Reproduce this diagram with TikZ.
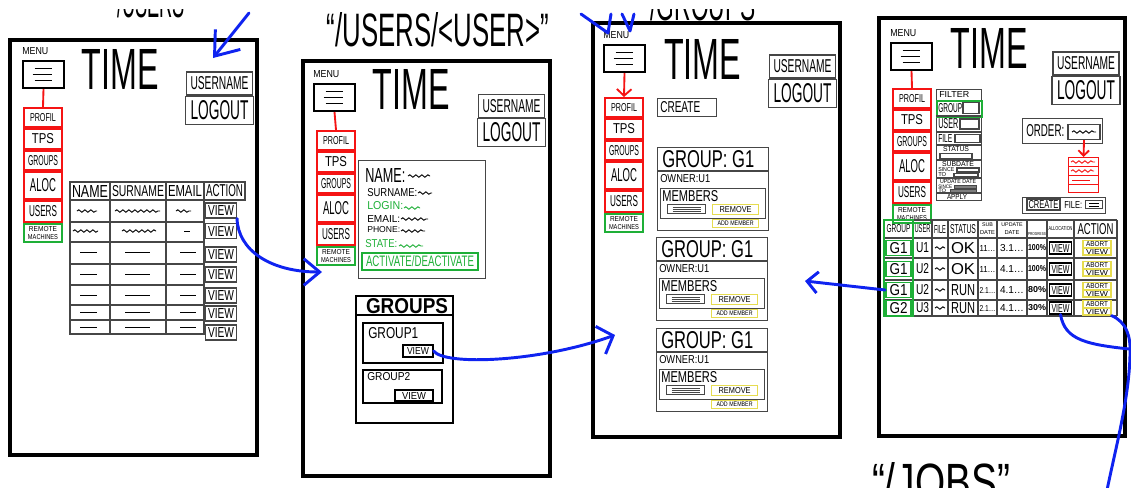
\documentclass[tikz,border=0pt]{standalone}
\usepackage{graphicx}
\usepackage{fontspec}
\setmainfont{Liberation Sans}
\usetikzlibrary{arrows.meta,decorations.pathmorphing}
\newlength\pxu
\setlength\pxu{0.75pt}
\newcommand\skt[3]{\resizebox{#1\pxu}{#2\pxu}{#3}}
\definecolor{skred}{RGB}{245,20,20}
\definecolor{skgreen}{RGB}{30,175,55}
\definecolor{skyellow}{RGB}{230,220,80}
\definecolor{skblue}{RGB}{15,35,240}
\definecolor{skgray}{RGB}{70,70,70}
\tikzset{
  wh/.style 2 args={minimum width=#1*0.75pt, minimum height=#2*0.75pt},
  frame/.style={draw=black, line width=3pt},
  box/.style={draw=skgray, line width=0.8pt, inner sep=0pt},
  hbox/.style={draw=black, line width=1.4pt, inner sep=0pt},
  redbox/.style={draw=skred, line width=1.5pt, inner sep=0pt},
  greenbox/.style={draw=skgreen, line width=1.3pt, inner sep=0pt},
  yelbox/.style={draw=skyellow, line width=0.9pt, inner sep=0pt},
  txt/.style={inner sep=0pt},
  menuicon/.style={draw=black, line width=1.5pt, wh={41}{27}, inner sep=0pt},
  redline/.style={draw=skred, line width=1.4pt},
  blueline/.style={draw=skblue, line width=2.2pt, line cap=round, line join=round},
  sq/.style={decorate, decoration={snake, amplitude=0.9pt, segment length=4.5pt}, line width=0.7pt},
}
% menu column: prefix, icon x, icon y, box x, box y, arrow spec
\newcommand\menucol[6]{%
  \node[txt, anchor=west] (#1lbl) at (#2,#3-9) {\skt{26}{7}{MENU}};
  \node[menuicon, anchor=north west] (#1menu) at (#2,#3) {};
  \draw[line width=1.2pt] ([shift={(-9,-6)}]#1menu.center) -- ++(17,0)
    ([shift={(-11,0)}]#1menu.center) -- ++(19,0)
    ([shift={(-9,6)}]#1menu.center) -- ++(17,0);
  \node[redbox, wh={38}{19}, anchor=north west] (#1prof) at (#4,#5) {\skt{26}{8}{PROFIL}};
  \node[redbox, wh={38}{20}, anchor=north] (#1tps) at (#1prof.south) {\skt{22}{10}{TPS}};
  \node[redbox, wh={38}{19}, anchor=north] (#1grp) at (#1tps.south) {\skt{30}{10}{GROUPS}};
  \node[redbox, wh={38}{27}, anchor=north] (#1aloc) at (#1grp.south) {\skt{26}{13}{ALOC}};
  \node[redbox, wh={38}{21}, anchor=north] (#1usr) at (#1aloc.south) {\skt{28}{11}{USERS}};
  \node[greenbox, wh={38}{18}, anchor=north, align=center, font=\fontsize{3}{3.5}\selectfont] (#1rem) at (#1usr.south) {\skt{28}{5}{REMOTE}\\[1pt]\skt{30}{5}{MACHINES}};
  \draw[redline, #6] (#1menu.south) -- (#1prof.north);
}
% title bar: prefix, time x, time y, username x, username y
\newcommand\topbar[5]{%
  \node[txt] (#1time) at (#2,#3) {\skt{77}{40}{TIME}};
  \node[box, wh={66}{23}] (#1user) at (#4,#5) {\skt{58}{13}{USERNAME}};
  \node[box, wh={68}{28}, anchor=north] (#1out) at (#1user.south) {\skt{58}{19}{LOGOUT}};
}
% group card: prefix, x, y
\newcommand\gcard[3]{%
  \node[box, wh={111}{83}, anchor=north west] (#1) at (#2,#3) {};
  \draw[box] (#2,#3+24) -- (#2+111,#3+24);
  \node[txt, anchor=west] (#1t) at (#2+5,#3+12) {\skt{92}{17}{GROUP: G1}};
  \node[txt, anchor=west] (#1o) at (#2+3,#3+32) {\skt{50}{8}{OWNER:U1}};
  \node[box, wh={105}{30}, anchor=north west] (#1m) at (#2+3,#3+41) {};
  \node[txt, anchor=west] (#1mt) at (#2+5,#3+49) {\skt{56}{11}{MEMBERS}};
  \node[box, wh={38}{9}, anchor=north west] (#1in) at (#2+10,#3+57) {};
  \draw[skgray, line width=0.6pt] ([shift={(-14,-2)}]#1in.center) -- ++(28,0)
      ([shift={(-14,0)}]#1in.center) -- ++(28,0) ([shift={(-14,2)}]#1in.center) -- ++(28,0);
  \node[yelbox, wh={46}{10}, anchor=north west] (#1rm) at (#2+55,#3+57) {\skt{32}{6}{REMOVE}};
  \node[yelbox, wh={46}{8}, anchor=north west] (#1add) at (#2+55,#3+72) {\skt{36}{4.5}{ADD MEMBER}};
}
\begin{document}
\begin{tikzpicture}[x=0.75pt, y=-0.75pt]
\useasboundingbox (0,0) rectangle (1131,487);
\clip (0,0) rectangle (1131,487);
% page titles (the top ones are only partly visible, as in the sketch)
\begin{scope}
\clip (0,9) rectangle (1131,487);
\node[txt, anchor=base] (ta) at (151,17) {\skt{80}{32}{“/USERS”}};
\node[txt, anchor=base] (tc) at (703,20) {\skt{120}{32}{“/GROUPS”}};
\end{scope}
\node[txt, anchor=base] (tb) at (438,46) {\skt{222}{34}{“/USERS/<USER>”}};
\node[txt, anchor=base] (td) at (941,500) {\skt{138}{38}{“/JOBS”}};
% frames
\draw[frame] (10,40) rectangle (257,455);
\draw[frame] (303,61) rectangle (550,476);
\draw[frame] (593,23) rectangle (840,437);
\draw[frame] (879,18) rectangle (1125,436);

% ===== Panel A =====
\menucol{pa}{22}{60}{23}{107}{-}
\topbar{pa}{120}{69}{219.5}{83.5}
\draw[box] (70,182) rectangle (245,200);
\foreach \x in {110,166,204} \draw[box] (\x,182) -- (\x,200);
\node[txt] (pah1) at (90,191) {\skt{36}{12}{NAME}};
\node[txt] (pah2) at (138,191) {\skt{52}{11}{SURNAME}};
\node[txt] (pah3) at (185,191) {\skt{34}{11}{EMAIL}};
\node[txt] (pah4) at (224.5,191) {\skt{37}{12}{ACTION}};
\draw[box] (70,200) rectangle (204,334);
\foreach \y in {222,242,264,285,305,320} \draw[box] (70,\y) -- (204,\y);
\foreach \x in {110,166} \draw[box] (\x,200) -- (\x,334);
\foreach \i/\y in {1/210.5,2/231,3/254.5,4/274.5,5/295.5,6/313.5,7/332.5}
  \node[box, wh={31}{15}, fill=white] (pav\i) at (221,\y) {\skt{26}{10}{VIEW}};
\draw[sq] (77,211) -- (97,211);
\draw[sq] (115,211) -- (160,211);
\draw[sq] (176,211) -- (191,211);
\draw[sq] (73,231) -- (98,231);
\draw[sq] (122,231) -- (156,231);
\draw[line width=0.7pt] (184,231) -- (190,231);
\foreach \y in {252,274,295,312,327}
  \draw[line width=0.7pt] (80,\y) -- (97,\y) (125,\y) -- (150,\y) (180,\y) -- (196,\y);

% ===== Panel B =====
\menucol{pb}{313}{83}{316}{130}{-}
\topbar{pb}{411}{89}{511.5}{106}
\node[box, wh={127}{118}, anchor=north west] (pbinfo) at (358,160) {};
\node[txt, anchor=west] (pbname) at (365,175) {\skt{40}{14}{NAME:}};
\draw[sq] (408,176) -- (430,176);
\node[txt, anchor=west] (pbsur) at (367,193) {\skt{50}{8}{SURNAME:}};
\draw[sq] (418,193) -- (432,193);
\node[txt, anchor=west, text=skgreen] (pblog) at (367,206) {\skt{36}{8}{LOGIN:}};
\draw[sq, skgreen] (404,208) -- (420,208);
\node[txt, anchor=west] (pbmail) at (367,218.5) {\skt{33}{7}{EMAIL:}};
\draw[sq] (401,219) -- (428,219);
\node[txt, anchor=west] (pbphone) at (367,230) {\skt{33}{6}{PHONE:}};
\draw[sq] (401,231) -- (425,231);
\node[txt, anchor=west, text=skgreen] (pbstate) at (365,244) {\skt{32}{8}{STATE:}};
\draw[sq, skgreen] (399,246) -- (423,246);
\node[greenbox, wh={116}{17}, text=skgreen] (pbact) at (420,261.5) {\skt{108}{11}{ACTIVATE/DEACTIVATE}};
\node[hbox, wh={97}{127}, anchor=north west] (pbgroups) at (355,295) {};
\draw[hbox] (355,315) -- (452,315);
\node[txt] (pbgt) at (407,306) {\skt{82}{15}{\bfseries GROUPS}};
\node[hbox, wh={80}{40}, anchor=north west] (pbg1) at (362,322) {};
\node[txt, anchor=west] (pbg1t) at (368,333) {\skt{50}{11}{GROUP1}};
\node[draw=black, line width=0.9pt, inner sep=0pt, wh={30}{12}] (pbg1v) at (418,351) {\skt{22}{7}{VIEW}};
\node[hbox, wh={79}{33}, anchor=north west] (pbg2) at (362,369) {};
\node[txt, anchor=west] (pbg2t) at (367,377) {\skt{43}{8}{GROUP2}};
\node[draw=black, line width=0.9pt, inner sep=0pt, wh={38}{11}] (pbg2v) at (414,395.5) {\skt{24}{7}{VIEW}};

% ===== Panel C =====
\menucol{pc}{603}{44}{604}{97}{-{Straight Barb[length=5pt,width=11pt]}}
\topbar{pc}{702.5}{59}{802.5}{66.5}
\node[box, wh={59}{18}, anchor=north west] (pccreate) at (657,98) {};
\node[txt, anchor=west] (pccreatet) at (660,107) {\skt{40}{11}{CREATE}};
\gcard{pcga}{657}{147}
\gcard{pcgb}{656}{237}
\gcard{pcgc}{656}{328}

% ===== Panel D =====
\menucol{pd}{890}{42}{892}{88}{-}
\topbar{pd}{989}{48}{1086}{63.5}
\node[box, wh={45}{111}, anchor=north west] (pdfilter) at (936,89) {};
\node[greenbox, wh={45}{16}, anchor=north west] (pdfgrp) at (936,100) {};
\foreach \y in {116,132,145,160,178,193} \draw[box] (936,\y) -- (981,\y);
\node[txt, anchor=west] (pdf0) at (939,94.5) {\skt{30}{6}{FILTER}};
\node[txt, anchor=west] (pdf1) at (938,108) {\skt{24}{9}{GROUP}};
\node[box, wh={16}{11}] (pdf1b) at (971,108) {};
\node[txt, anchor=west] (pdf2) at (938,124) {\skt{20}{10}{USER}};
\node[box, wh={19}{10}] (pdf2b) at (969.5,124) {};
\node[txt, anchor=west] (pdf3) at (938,138.5) {\skt{14}{8}{FILE}};
\node[box, wh={25}{8}] (pdf3b) at (967.5,138.5) {};
\node[txt] (pdf4) at (956,149) {\skt{26}{5}{STATUS}};
\node[box, wh={32}{5}] (pdf4b) at (956,156) {};
\node[txt] (pdf5) at (958,164) {\skt{32}{5}{SUBDATE}};
\node[txt, anchor=west] (pdf5a) at (938,170) {\skt{16}{4}{SINCE}};
\node[box, wh={22}{4}] (pdf5b) at (968,170) {};
\node[txt, anchor=west] (pdf5c) at (938,175) {\skt{8}{4}{TO}};
\node[box, wh={24}{3}] (pdf5d) at (966,175) {};
\node[txt] (pdf6) at (958,182) {\skt{36}{4}{UPDATE DATE}};
\node[txt, anchor=west] (pdf6a) at (938,186.5) {\skt{14}{3.5}{SINCE}};
\node[draw=skgray, fill=skgray!70, inner sep=0pt, wh={22}{3}] (pdf6b) at (965,186.5) {};
\node[txt, anchor=west] (pdf6c) at (938,190.5) {\skt{8}{3.5}{TO}};
\node[draw=skgray, fill=skgray!70, inner sep=0pt, wh={26}{3}] (pdf6d) at (963,190.5) {};
\node[txt] (pdf7) at (957,196.5) {\skt{20}{5}{APPLY}};
% order
\node[box, wh={80}{25}, anchor=north west] (pdorder) at (1022,118) {};
\node[txt, anchor=west] (pdordt) at (1026,131) {\skt{38}{12}{ORDER:}};
\node[box, wh={32}{15}] (pdsel) at (1084,132) {};
\draw[sq] (1072,132) -- (1096,132);
\node[draw=skred, line width=0.8pt, wh={30}{35}, anchor=north west, inner sep=0pt] (pdlist) at (1068,157) {};
\draw[skred, line width=0.7pt] (1068,166) -- (1098,166) (1068,175) -- (1098,175) (1068,184) -- (1098,184);
\draw[sq, skred] (1071,162) -- (1095,162);
\draw[sq, skred] (1071,171) -- (1094,171);
\draw[skred, line width=0.6pt] (1072,180) -- (1090,180);
\draw[redline, -{Straight Barb[length=4pt,width=8pt]}] (pdsel.south) -- (pdlist.north);
% create file
\node[box, wh={83}{16}, anchor=north west] (pdcf) at (1022,197) {};
\node[box, wh={33}{11}] (pdcreate) at (1043.5,204.5) {\skt{30}{8}{CREATE}};
\node[txt, anchor=west] (pdfile) at (1064,204.5) {\skt{18}{7}{FILE:}};
\node[box, wh={17}{8}] (pdfileic) at (1094,204.5) {};
\draw[line width=0.6pt] ([shift={(-5,-1.5)}]pdfileic.center) -- ++(10,0) ([shift={(-5,1.5)}]pdfileic.center) -- ++(10,0);
% jobs table
\foreach \y in {220,238,258,280,300,316} \draw[box] (884,\y) -- (1117,\y);
\foreach \x in {884,913,932,948,978,997,1027,1047,1074,1117} \draw[box] (\x,220) -- (\x,316);
\draw[greenbox] (884,220) rectangle (913,316);
\node[txt] (pdh1) at (898.5,229) {\skt{24}{8}{GROUP}};
\node[txt] (pdh2) at (922.5,229) {\skt{16}{8}{USER}};
\node[txt] (pdh3) at (940,229) {\skt{12}{8}{FILE}};
\node[txt] (pdh4) at (963,229) {\skt{26}{9}{STATUS}};
\node[txt, font=\fontsize{4}{4}\selectfont] (pdh5a) at (987.5,224.5) {SUB};
\node[txt, font=\fontsize{4.3}{4.3}\selectfont] (pdh5b) at (987.5,233) {DATE};
\node[txt, font=\fontsize{4}{4}\selectfont] (pdh6a) at (1012,224.5) {UPDATE};
\node[txt, font=\fontsize{4.3}{4.3}\selectfont] (pdh6b) at (1012,233) {DATE};
\node[txt] (pdh7) at (1037,234) {\skt{18}{3}{PROGRESS}};
\node[txt] (pdh8) at (1060.5,229) {\skt{24}{4}{ALLOCATION}};
\node[txt] (pdh9) at (1095.5,229) {\skt{36}{11}{ACTION}};
\foreach \i/\y/\g/\u/\s/\sd/\ud/\p in {%
  1/248/G1/U1/OK/11\ldots/3.1\ldots/100\%,
  2/269/G1/U2/OK/11\ldots/4.1\ldots/100\%,
  3/290/G1/U2/RUN/2.1\ldots/4.1\ldots/80\%,
  4/308/G2/U3/RUN/2.1\ldots/4.1\ldots/30\%}{
  \node[greenbox, wh={25}{15}] (pdg\i) at (898.5,\y) {\skt{18}{11}{\g}};
  \node[txt] (pdu\i) at (922.5,\y) {\skt{13}{10}{\u}};
  \draw[sq] (935,\y) -- (945,\y);
  \node[txt] (pds\i) at (963,\y) {\skt{24}{11}{\s}};
  \node[txt] (pdsd\i) at (987.5,\y) {\skt{16}{6}{\sd}};
  \node[txt] (pdud\i) at (1012,\y) {\skt{24}{7}{\ud}};
  \node[txt] (pdp\i) at (1037,\y) {\skt{18}{6}{\textbf{\p}}};
  \node[draw=black, line width=0.8pt, inner sep=0pt, wh={22}{12}] (pdal\i) at (1060.5,\y) {\skt{18}{8}{VIEW}};
  \node[yelbox, wh={28}{7}] (pdab\i) at (1097,\y-4) {\skt{22}{5}{ABORT}};
  \node[yelbox, wh={28}{7}] (pdav\i) at (1097,\y+3.5) {\skt{22}{5}{VIEW}};
}

% ===== blue connectors =====
\coordinate (paoff) at (249,13);
\coordinate (pain) at (213,58);
\draw[blueline, -{Straight Barb[length=16pt,width=24pt]}] (paoff) -- (pain);
\draw[blueline] (581,14) -- (608,33) -- (611,14);
\draw[blueline] (622,14) -- (630,31) -- (634,14);
\coordinate (pbin) at (322,272);
\draw[blueline, -{Straight Barb[length=12pt,width=20pt]}] (pav1.south east) .. controls (238,250) and (270,272) .. (pbin);
\coordinate (pcin) at (615,335);
\draw[blueline, -{Straight Barb[length=10pt,width=22pt]}] (pbg1v.east) .. controls (445,366) and (540,362) .. (pcin);
\coordinate (pcin2) at (805,281);
\draw[blueline, -{Straight Barb[length=8pt,width=16pt]}] (pdg3.west) -- (pcin2);
\coordinate (pdoutE) at (1140,350);
\draw[blueline] (pdal4.south) .. controls (1065,340) and (1085,345) .. (pdoutE);
\coordinate (pdoutF) at (1106,495);
\draw[blueline] (pdav4.south east) .. controls (1126,322) and (1131,335) .. (1130,355) .. controls (1129,400) and (1115,450) .. (pdoutF);
\end{tikzpicture}
\end{document}
